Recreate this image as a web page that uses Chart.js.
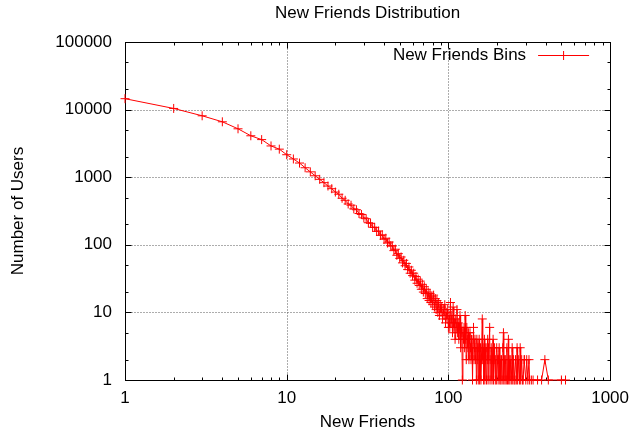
<!DOCTYPE html>
<html>
<head>
<meta charset="utf-8">
<title>New Friends Distribution</title>
<script src="https://cdn.jsdelivr.net/npm/chart.js@4/dist/chart.umd.min.js"></script>
<style>
  html, body { margin: 0; padding: 0; background: #fff; }
  #wrap { width: 637px; height: 436px; }
</style>
</head>
<body>
<div id="wrap"><canvas id="chart" width="637" height="436"></canvas></div>
<script>
// ------------------------------------------------------------
// data (log-log, gnuplot style)
// ------------------------------------------------------------
const chartTitle  = 'New Friends Distribution';
const seriesLabel = 'New Friends Bins';
const xTitle      = 'New Friends';
const yTitle      = 'Number of Users';

const xDecades    = [1, 10, 100, 1000];
const yDecades    = [1, 10, 100, 1000, 10000, 100000];
const xMinorSteps = [2, 3, 4, 5, 6, 7, 8, 9];
const yMinorSteps = [2, 5];

const newFriends = [
  1, 2, 3, 4, 5, 6, 7, 8, 9, 10,
  11, 12, 13, 14, 15, 16, 17, 18, 19, 20,
  21, 22, 23, 24, 25, 26, 27, 28, 29, 30,
  31, 32, 33, 34, 35, 36, 37, 38, 39, 40,
  41, 42, 43, 44, 45, 46, 47, 48, 49, 50,
  51, 52, 53, 54, 55, 56, 57, 58, 59, 60,
  61, 62, 63, 64, 65, 66, 67, 68, 69, 70,
  71, 72, 73, 74, 75, 76, 77, 78, 79, 80,
  81, 82, 83, 84, 85, 86, 87, 88, 89, 90,
  91, 92, 93, 94, 95, 96, 97, 98, 99, 100,
  101, 102, 103, 104, 105, 106, 107, 108, 109, 110,
  111, 112, 113, 114, 115, 116, 117, 118, 119, 120,
  121, 122, 123, 124, 125, 126, 127, 128, 129, 130,
  131, 132, 133, 134, 135, 136, 137, 138, 139, 140,
  141, 142, 143, 144, 145, 146, 147, 148, 149, 150,
  151, 152, 153, 154, 155, 156, 157, 158, 159, 160,
  162, 163, 164, 165, 166, 167, 168, 169, 170, 172,
  173, 174, 175, 176, 177, 178, 180, 181, 183, 184,
  186, 187, 189, 190, 192, 193, 195, 196, 198, 199,
  201, 203, 204, 206, 208, 209, 211, 213, 215, 217,
  219, 220, 222, 224, 226, 228, 230, 232, 235, 236,
  238, 240, 243, 245, 248, 250, 253, 255, 258, 260,
  263, 266, 268, 272, 275, 278, 280, 284, 287, 290,
  294, 296, 301, 305, 310, 315, 318, 326, 334, 356,
  377, 395, 415, 500, 530
];

const userCounts = [
  14500, 10400, 8100, 6600, 5200, 4100, 3600, 2900, 2600, 2150,
  1860, 1620, 1380, 1200, 1050, 930, 830, 740, 676, 603,
  560, 488, 455, 402, 385, 340, 330, 290, 281, 250,
  243, 212, 208, 182, 181, 158, 160, 138, 140, 121,
  125, 106, 110, 97, 96, 82, 86, 70, 74, 63,
  66, 54, 59, 49, 53, 43, 47, 38, 42, 35,
  38, 30, 34, 27, 31, 25, 29, 22, 26, 20,
  24, 19, 22, 16, 20, 15, 19, 14, 17, 13,
  18, 12, 16, 11, 15, 10, 14, 9, 13, 10,
  12, 8, 11, 9, 13, 7, 10, 8, 11, 6,
  9, 6, 14, 7, 9, 5, 12, 6, 7, 4,
  8, 6, 11, 5, 7, 4, 6, 9, 3, 5,
  6, 1, 5, 4, 6, 3, 9, 4, 2, 6,
  4, 3, 5, 2, 4, 5, 3, 2, 4, 3,
  1, 4, 6, 2, 3, 4, 2, 3, 1, 4,
  3, 2, 1, 3, 4, 1, 2, 3, 1, 2,
  8, 2, 3, 1, 2, 4, 1, 3, 2, 1,
  3, 2, 4, 1, 3, 2, 6, 1, 2, 3,
  1, 2, 4, 1, 2, 3, 1, 2, 1, 3,
  2, 1, 2, 3, 1, 2, 1, 2, 1, 3,
  5, 1, 2, 1, 2, 1, 3, 1, 4, 1,
  2, 1, 2, 1, 3, 1, 2, 1, 1, 2,
  1, 3, 1, 2, 1, 3, 1, 2, 1, 1,
  2, 2, 1, 2, 1, 2, 1, 1, 1, 1,
  1, 2, 1, 1, 1
];

const FONT = { family: '"Liberation Sans", Arial, Helvetica, sans-serif', size: 17 };
const RED = '#ff0000';

// gnuplot-ish frame: dotted decade grid, box border, inward ticks on all sides
const gnuFrame = {
  id: 'gnuFrame',
  beforeDatasetsDraw(chart) {
    const { ctx, chartArea: a, scales: { x, y } } = chart;
    const px = v => Math.round(x.getPixelForValue(v)) + 0.5;
    const py = v => Math.round(y.getPixelForValue(v)) + 0.5;
    const L = Math.round(a.left) + 0.5, R = Math.round(a.right) + 0.5;
    const T = Math.round(a.top) + 0.5, B = Math.round(a.bottom) + 0.5;

    ctx.save();
    ctx.lineWidth = 1;

    // grid
    ctx.strokeStyle = '#5a5a5a';
    ctx.setLineDash([1, 2]);
    ctx.beginPath();
    xDecades.forEach(v => { ctx.moveTo(px(v), T); ctx.lineTo(px(v), B); });
    yDecades.forEach(v => { ctx.moveTo(L, py(v)); ctx.lineTo(R, py(v)); });
    ctx.stroke();
    ctx.setLineDash([]);

    // ticks
    ctx.strokeStyle = '#000';
    ctx.beginPath();
    const xTick = (v, len) => {
      ctx.moveTo(px(v), B); ctx.lineTo(px(v), B - len);
      ctx.moveTo(px(v), T); ctx.lineTo(px(v), T + len);
    };
    const yTick = (v, len) => {
      ctx.moveTo(L, py(v)); ctx.lineTo(L + len, py(v));
      ctx.moveTo(R, py(v)); ctx.lineTo(R - len, py(v));
    };
    xDecades.forEach((d, i) => {
      xTick(d, 6);
      if (i < xDecades.length - 1) xMinorSteps.forEach(m => xTick(d * m, 3));
    });
    yDecades.forEach((d, i) => {
      yTick(d, 6);
      if (i < yDecades.length - 1) yMinorSteps.forEach(m => yTick(d * m, 3));
    });
    ctx.stroke();

    // border box
    ctx.strokeRect(L, T, R - L, B - T);
    ctx.restore();
  },
  afterDraw(chart) {
    const { ctx, chartArea: a } = chart;
    const ds = chart.data.datasets[0];
    ctx.save();
    ctx.fillStyle = '#000';
    ctx.font = `${FONT.size}px ${FONT.family}`;
    ctx.textBaseline = 'middle';

    // title, centred over the plot area
    ctx.textAlign = 'center';
    ctx.fillText(chartTitle, (a.left + a.right) / 2, 13);

    // key, top right inside the plot
    const ky = a.top + 13.5;
    ctx.textAlign = 'right';
    ctx.fillText(ds.label, a.right - 84, ky);
    ctx.strokeStyle = ds.borderColor;
    ctx.lineWidth = 1;
    ctx.beginPath();
    ctx.moveTo(a.right - 72, ky); ctx.lineTo(a.right - 21, ky);
    const cx = a.right - 46.5, r = ds.pointRadius;
    ctx.moveTo(cx - r, ky); ctx.lineTo(cx + r, ky);
    ctx.moveTo(cx, ky - r); ctx.lineTo(cx, ky + r);
    ctx.stroke();
    ctx.restore();
  }
};

new Chart(document.getElementById('chart'), {
  type: 'line',
  data: {
    datasets: [{
      label: seriesLabel,
      data: newFriends.map((x, i) => ({ x, y: userCounts[i] })),
      borderColor: RED,
      backgroundColor: RED,
      borderWidth: 1,
      pointStyle: 'cross',
      pointRadius: 4.5,
      pointBorderWidth: 1,
      pointBorderColor: RED,
      pointHoverRadius: 4.5,
      tension: 0,
      fill: false,
      clip: false,
    }],
  },
  options: {
    responsive: false,
    animation: false,
    events: [],
    layout: { padding: { top: 42, right: 23, bottom: 0, left: 0 } },
    plugins: {
      legend: { display: false },
      title: { display: false },
      tooltip: { enabled: false },
    },
    scales: {
      x: {
        type: 'logarithmic',
        min: 1, max: 1000,
        afterBuildTicks: s => { s.ticks = xDecades.map(v => ({ value: v })); },
        afterFit: s => { s.height = 56; },
        grid: { display: false, drawTicks: false },
        border: { display: false },
        ticks: {
          color: '#000', font: FONT, padding: 8,
          autoSkip: false, maxRotation: 0,
          callback: v => String(v),
        },
        title: { display: true, text: xTitle, color: '#000', font: FONT, padding: { top: 0, bottom: 3 } },
      },
      y: {
        type: 'logarithmic',
        min: 1, max: 100000,
        afterBuildTicks: s => { s.ticks = yDecades.map(v => ({ value: v })); },
        afterFit: s => { s.width = 125; },
        grid: { display: false, drawTicks: false },
        border: { display: false },
        ticks: {
          color: '#000', font: FONT, padding: 13,
          autoSkip: false,
          callback: v => String(v),
        },
        title: { display: true, text: yTitle, color: '#000', font: FONT, padding: { top: 8, bottom: 0 } },
      },
    },
  },
  plugins: [gnuFrame],
});
</script>
</body>
</html>
